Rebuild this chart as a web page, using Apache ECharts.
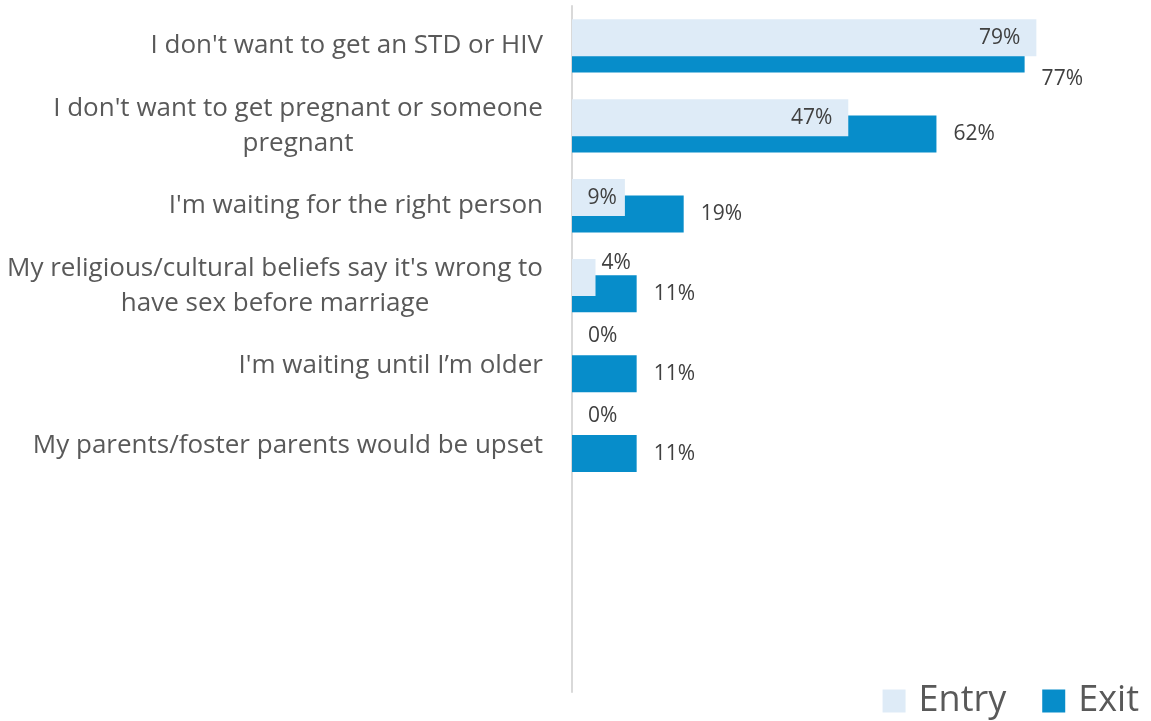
<!DOCTYPE html>
<html>
<head>
<meta charset="utf-8">
<script src="https://cdn.jsdelivr.net/npm/echarts@6/dist/echarts.min.js"></script>
<style>
html,body{margin:0;padding:0;background:#fff;}
#chart{width:1151px;height:721px;}
</style>
</head>
<body>
<div id="chart"></div>
<script>
var categories = [
  "I don't want to get an STD or HIV",
  "I don't want to get pregnant or someone\npregnant",
  "I'm waiting for the right person",
  "My religious/cultural beliefs say it's wrong to\nhave sex before marriage",
  "I'm waiting until I\u2019m older",
  "My parents/foster parents would be upset"
];
var entryValues = [79, 47, 9, 4, 0, 0];
var exitValues = [77, 62, 19, 11, 11, 11];
var seriesNames = ["Entry", "Exit"];

var FONT = "Open Sans";
var CAT_SIZE = 26;
var CAT_LH = 35;
var VAL_SIZE = 21;

var canvas = document.createElement('canvas');
var ctx = canvas.getContext('2d');
ctx.font = CAT_SIZE + 'px "' + FONT + '"';
function textW(s){ return Math.ceil(ctx.measureText(s).width); }

// multi-line labels: lines centered within a block that is right-aligned
var richStyles = {};
categories.forEach(function(c, i){
  var lines = c.split('\n');
  if (lines.length === 1) return;
  var w = Math.max.apply(null, lines.map(textW));
  richStyles['m' + i] = { width: w, align: 'center', fontFamily: FONT, fontSize: CAT_SIZE, color: '#595959', lineHeight: CAT_LH };
});

function entryItem(v){
  var label;
  if (v === 0) {
    label = { position: 'right', distance: 16, offset: [0, -21] };
  } else if (v < 6) {
    label = { position: 'right', distance: 6, offset: [0, -14] };
  } else if (v < 15) {
    label = { position: 'insideRight', distance: 8 };
  } else {
    label = { position: 'insideRight', distance: 16 };
  }
  return { value: v, label: label };
}
function exitItem(v, i){
  var label = { position: 'right', distance: 17 };
  if (i === 0) label.offset = [0, 25];
  return { value: v, label: label };
}

var chart = echarts.init(document.getElementById('chart'));
chart.setOption({
  animation: false,
  backgroundColor: '#ffffff',
  textStyle: { fontFamily: FONT },
  grid: [
    { left: 572, right: 0, top: 6, height: 479.4, outerBoundsMode: 'none' },
    { left: 572, right: 10, top: 6, bottom: 29, outerBoundsMode: 'none' }
  ],
  xAxis: [
    { type: 'value', gridIndex: 0, min: 0, max: 98.5, show: false },
    { type: 'value', gridIndex: 1, min: 0, max: 100, show: false }
  ],
  yAxis: [
    {
      type: 'category', gridIndex: 0, inverse: true, data: categories,
      axisLine: { show: false }, axisTick: { show: false }, splitLine: { show: false },
      axisLabel: {
        margin: 29, fontFamily: FONT, fontSize: CAT_SIZE, color: '#595959', lineHeight: CAT_LH,
        formatter: function(val, idx){
          if (val.indexOf('\n') >= 0) return '{m' + idx + '|' + val + '}';
          return val;
        },
        rich: richStyles
      }
    },
    {
      type: 'value', gridIndex: 1, min: 0, max: 1,
      axisLine: { show: true, lineStyle: { color: '#D9D9D9', width: 2 } },
      axisTick: { show: false }, axisLabel: { show: false }, splitLine: { show: false }
    }
  ],
  legend: {
    right: 7, top: 678,
    itemWidth: 23, itemHeight: 23, itemGap: 36,
    icon: 'rect',
    textStyle: { fontFamily: FONT, fontSize: 36, color: '#595959', padding: [0, 0, 0, 8] },
    data: seriesNames
  },
  series: [
    {
      name: seriesNames[0], type: 'bar', xAxisIndex: 0, yAxisIndex: 0,
      barWidth: 37, barGap: '-56%', z: 3,
      itemStyle: { color: '#DEEBF7' },
      label: { show: true, formatter: '{c}%', fontFamily: FONT, fontSize: VAL_SIZE, color: '#404040' },
      data: entryValues.map(entryItem)
    },
    {
      name: seriesNames[1], type: 'bar', xAxisIndex: 0, yAxisIndex: 0,
      barWidth: 37, z: 2,
      itemStyle: { color: '#078DCA' },
      label: { show: true, formatter: '{c}%', fontFamily: FONT, fontSize: VAL_SIZE, color: '#404040' },
      data: exitValues.map(exitItem)
    }
  ]
});
</script>
</body>
</html>
